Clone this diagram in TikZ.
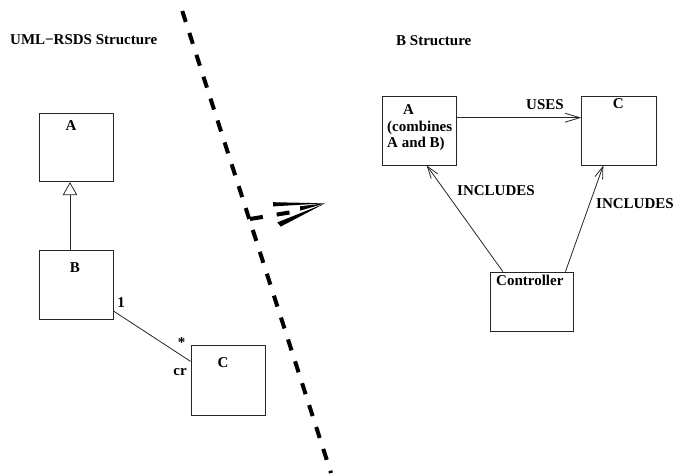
\documentclass[tikz,border=0pt]{standalone}
\usepackage{fontspec}
\setmainfont{Liberation Serif}
\usetikzlibrary{arrows.meta}
\begin{document}
\begin{tikzpicture}[x=1pt,y=-1pt,
  box/.style={draw=black!85,line width=0.9pt,inner sep=0pt},
  txt/.style={font=\fontsize{15}{16.5}\selectfont\bfseries,inner sep=0pt,anchor=base},
  txtl/.style={txt,anchor=base west},
  conn/.style={draw=black!85,line width=0.8pt},
  barb/.style={-{Straight Barb[length=12pt,width=8pt,line width=0.8pt]}},
  barbl/.style={-{Straight Barb[length=15pt,width=9pt,line width=0.8pt]}},
  inherit/.style={-{Triangle[open,length=13pt,width=14.5pt,line width=0.8pt]}},
  sep/.style={line width=4pt,dash pattern=on 11.5pt off 11.5pt},
  bigarrow/.style={line width=4pt}
]
\useasboundingbox (0,0) rectangle (674,476);

% titles
\node[txtl] (t1) at (10,45) {UML−RSDS Structure};
\node[txtl] (t2) at (396,46) {B Structure};

% left diagram
\node[box,minimum width=74pt,minimum height=68.4pt] (Al) at (76.3,147.5) {};
\node[txt] (Alab) at (71,131) {A};
\node[box,minimum width=74pt,minimum height=68.3pt] (Bl) at (76.3,284.9) {};
\node[txt] (Blab) at (75,272) {B};
\node[box,minimum width=74.5pt,minimum height=69.5pt] (Cl) at (228.3,380.2) {};
\node[txt] (Clab) at (223,367) {C};

\draw[conn,inherit] ([xshift=-6.3pt]Bl.north) -- ([xshift=-6.3pt]Al.south);
\draw[conn] ([yshift=8.3pt]Bl.south east) -- ([yshift=-16.4pt]Cl.north west);
\node[txt] (one) at (121,307) {1};
\node[txt,anchor=center] (star) at (181.7,342.5) {*};
\node[txt] (cr) at (180,375.5) {cr};

% separator
\coordinate (s1) at (182.3,11);
\coordinate (s2) at (331,473);
\draw[sep] (s1) -- (s2);

% transformation arrow
\coordinate (bs) at (250,219);
\coordinate (bt) at (325,203.3);
\coordinate (bm) at (290,212.4);
\draw[bigarrow,dash pattern=on 13pt off 14pt] (bs) -- (bm);
\fill (bt) -- (300,206.3) -- (300,210.7) -- cycle;
\fill (273,202.2) -- (bt) -- (273,206.4) -- cycle;
\fill (bt) -- (277.3,222.4) -- (280.7,226.6) -- cycle;

% right diagram
\node[box,minimum width=74.4pt,minimum height=69pt] (Ar) at (419.5,130.5) {};
\node[txtl] (Ar1) at (403,114.3) {A};
\node[txtl] (Ar2) at (387,131.7) {(combines};
\node[txtl] (Ar3) at (387,147.7) {A and B)};
\node[box,minimum width=75pt,minimum height=69pt] (Cr) at (619.2,130.5) {};
\node[txt] (Crlab) at (618.3,109) {C};
\node[box,minimum width=82.6pt,minimum height=59.7pt] (Ctl) at (532,301.9) {};
\node[txtl] (Ctllab) at (496,285) {Controller};

\draw[conn,barbl] ([yshift=12.8pt]Ar.east) -- ([yshift=12.8pt]Cr.west);
\node[txt] (uses) at (545,109.3) {USES};
\draw[conn,barb] ([xshift=12.6pt]Ctl.north west) -- ([xshift=7.2pt]Ar.south);
\draw[conn,barb] ([xshift=-8.3pt]Ctl.north east) -- ([xshift=-15.9pt]Cr.south);
\node[txtl] (inc1) at (457,195) {INCLUDES};
\node[txtl] (inc2) at (596,208.5) {INCLUDES};
\end{tikzpicture}
\end{document}
